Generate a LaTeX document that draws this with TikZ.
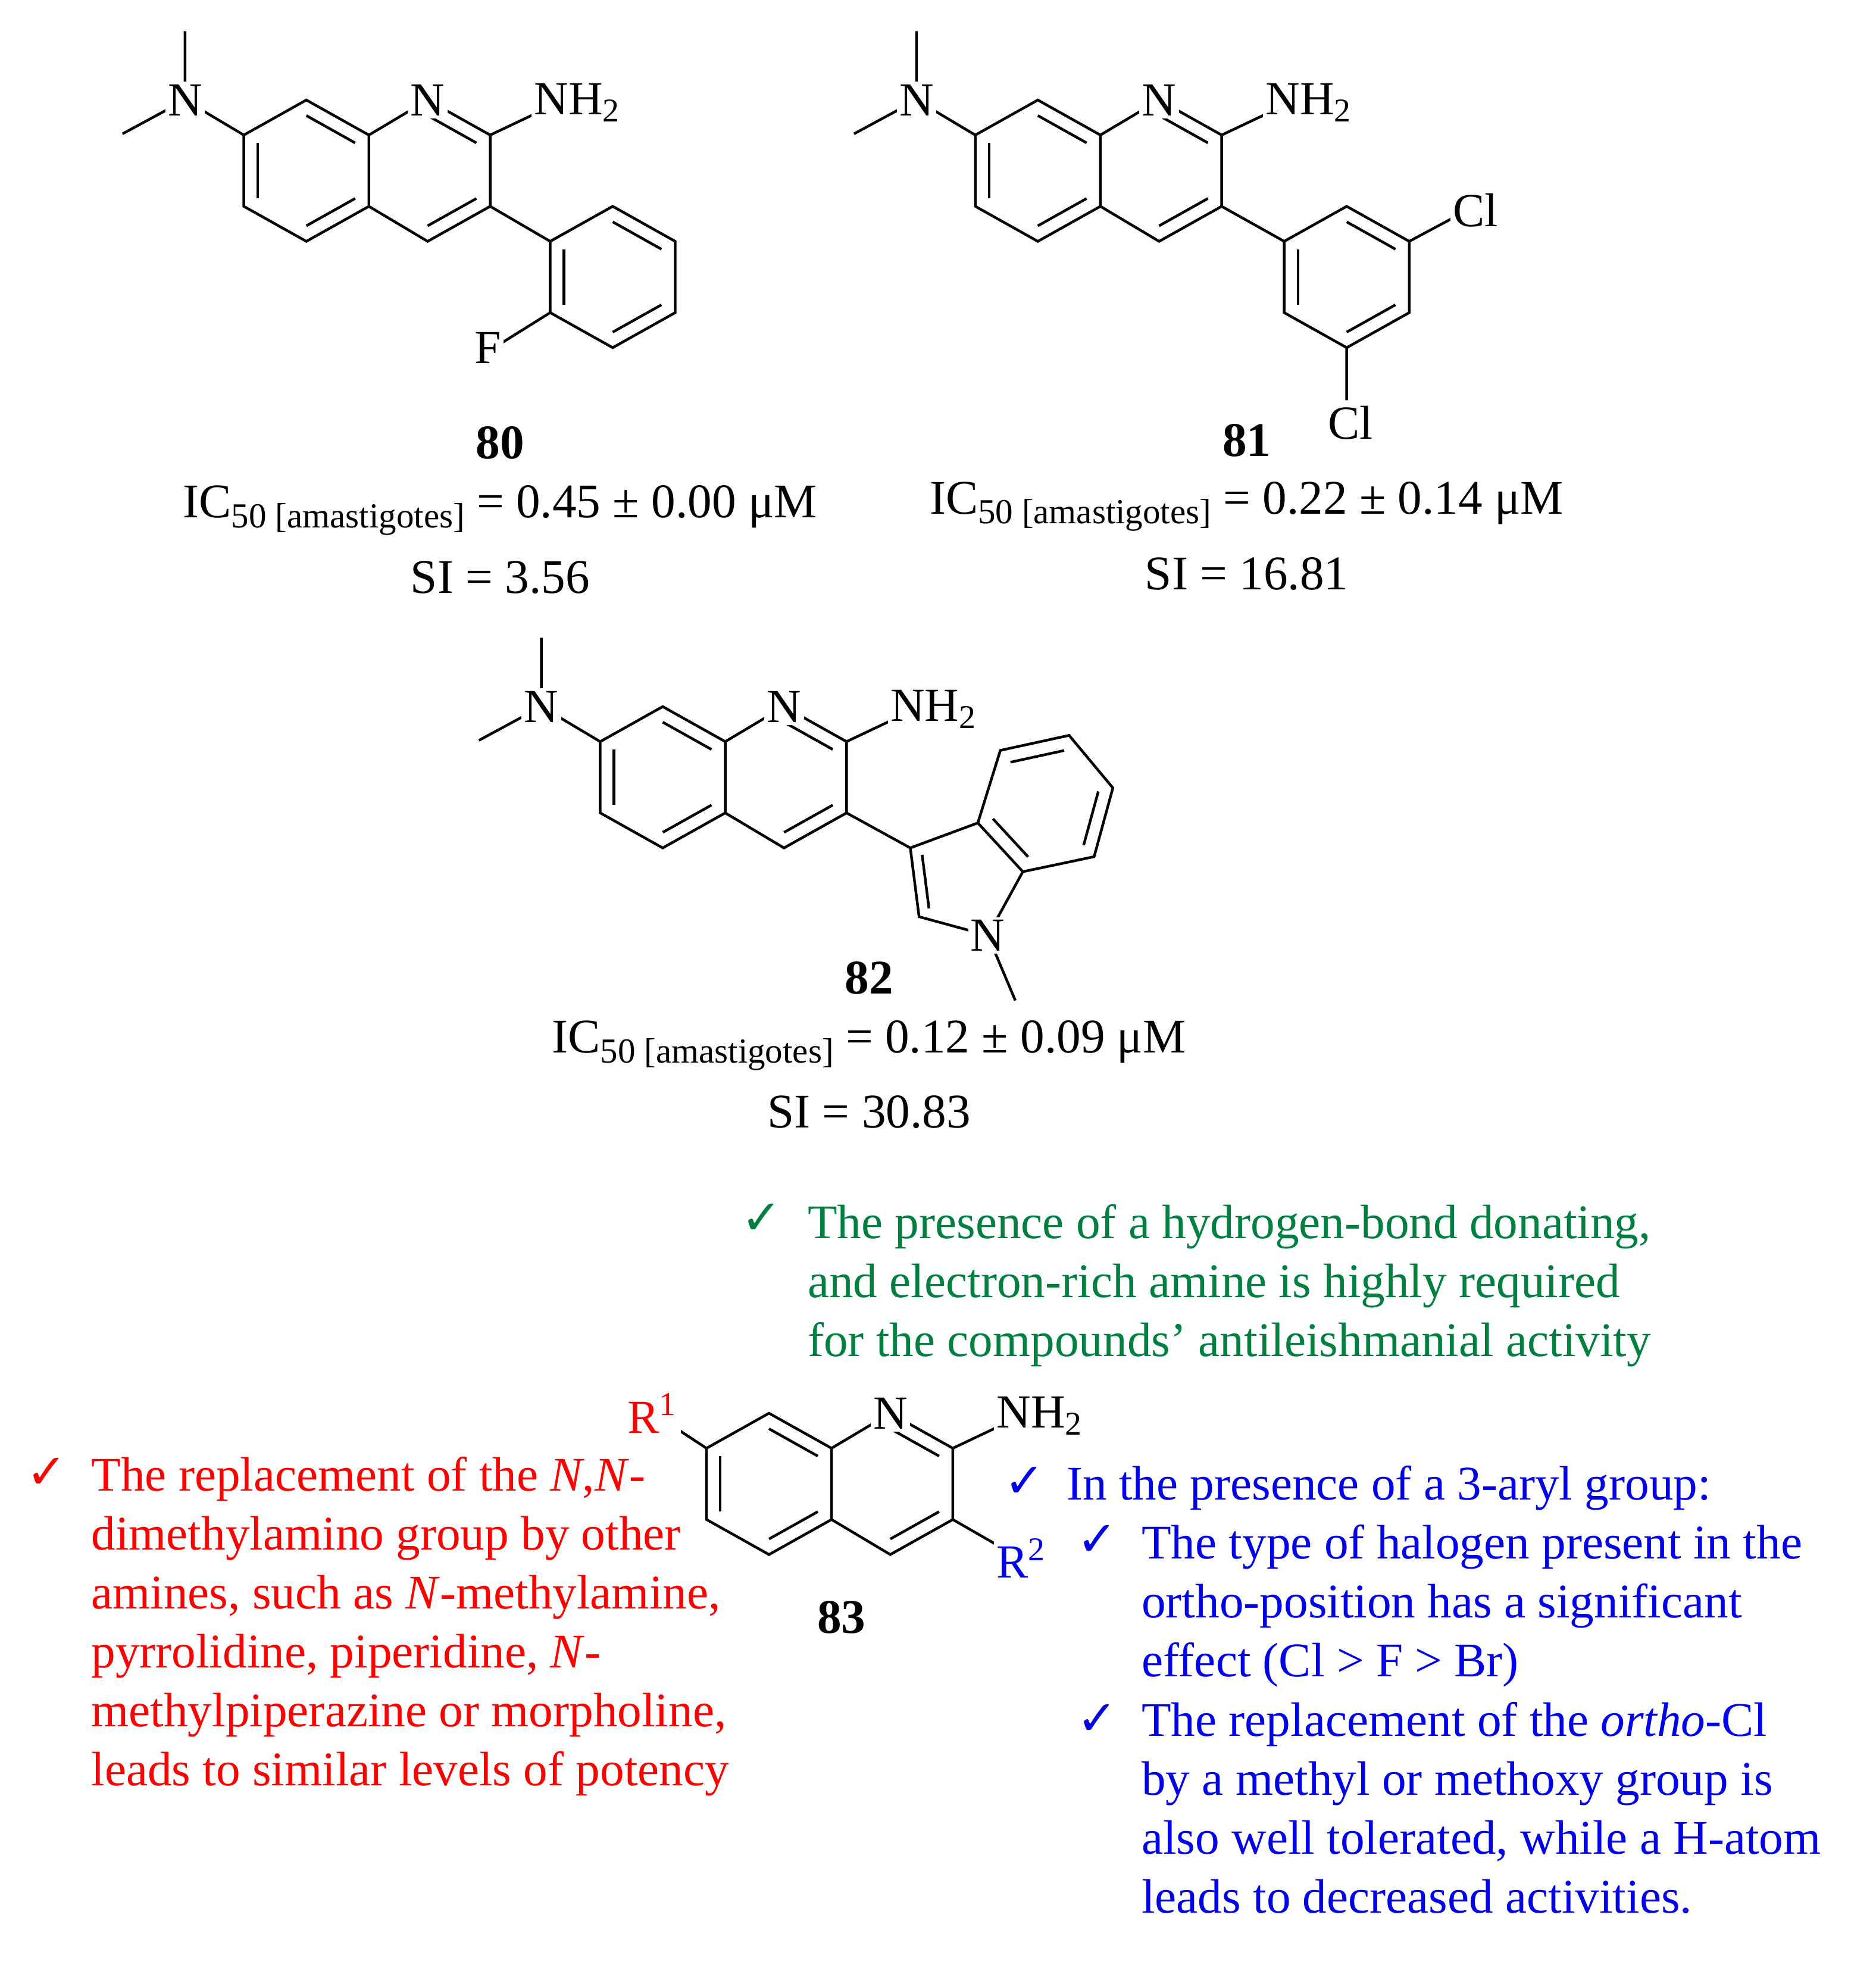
\documentclass[tikz,border=0pt]{standalone}
\usepackage{fontspec}
\setmainfont{Liberation Serif}
\newfontfamily\dejavu{DejaVu Sans}
\usetikzlibrary{calc}
\definecolor{cgreen}{RGB}{0,128,64}
\definecolor{cblue}{RGB}{0,0,235}
\definecolor{cred}{RGB}{255,0,0}
\newcommand\ib[3]{\draw ($(#1)!0.78!(#2)$) -- ($(#1)!0.78!(#3)$);}
\newcommand\ck{{\dejavu ✓}}
\newcommand\icf[2]{IC\raisebox{-0.45ex}{\footnotesize 50 [amastigotes]} = #1 ± #2 μM}
\tikzset{atom/.style={fill=white,inner sep=0.6pt,font=\fontsize{10.8}{12}\selectfont},
 txt/.style={anchor=west,inner sep=0pt,font=\fontsize{11}{13.4}\selectfont},
 ctr/.style={inner sep=0pt,font=\fontsize{11}{13}\selectfont},
 bnd/.style={line width=0.6pt}}
\newcommand\core{%
\coordinate (a) at (195,108); \coordinate (b) at (245,80); \coordinate (c) at (295,108);
\coordinate (d) at (295,165); \coordinate (e) at (245,193); \coordinate (f) at (195,165);
\coordinate (g) at (342,80); \coordinate (h) at (392,108); \coordinate (i) at (392,165);
\coordinate (j) at (342,193); \coordinate (L) at (245,136.5); \coordinate (R) at (342,136.5);
\draw (a)--(b)--(c)--(d)--(e)--(f)--cycle; \draw (c)--(g)--(h)--(i)--(j)--(d);
\ib{L}{f}{a}\ib{L}{b}{c}\ib{L}{d}{e}\ib{R}{g}{h}\ib{R}{i}{j}
\draw (h)--(430,90);
\node[atom] (rN) at (g) {N};
\node[atom,anchor=west] (nh) at (424,82) {NH\textsubscript{2}};}
\newcommand\nme{%
\coordinate (mn) at (148,80);
\draw (a)--(mn) (mn)--(148,25) (mn)--(98,107);
\node[atom] (dN) at (mn) {N};}
\begin{document}
\begin{tikzpicture}[x=0.1mm,y=-0.1mm,every path/.style={bnd}]
\useasboundingbox (0,0) rectangle (1500,1576);
% ---- 80
\begin{scope}
\core \nme
\coordinate (p1) at (440,193); \coordinate (p2) at (490,165); \coordinate (p3) at (540,193);
\coordinate (p4) at (540,250); \coordinate (p5) at (490,278); \coordinate (p6) at (440,250);
\coordinate (P) at (490,221.5);
\draw (i)--(p1) (p1)--(p2)--(p3)--(p4)--(p5)--(p6)--cycle (p6)--(400,275);
\ib{P}{p6}{p1}\ib{P}{p2}{p3}\ib{P}{p4}{p5}
\node[atom] (F) at (390,278) {F};
\end{scope}
\node[ctr,font=\fontsize{11}{13}\selectfont\bfseries] (l80) at (400,354) {80};
\node[ctr] (ic80) at (400,408) {\icf{0.45}{0.00}};
\node[ctr] (si80) at (400,462) {SI = 3.56};
% ---- 81
\begin{scope}[shift={(585,0)}]
\core \nme
\coordinate (p1) at (442,193); \coordinate (p2) at (492,165); \coordinate (p3) at (542,193);
\coordinate (p4) at (542,250); \coordinate (p5) at (492,278); \coordinate (p6) at (442,250);
\coordinate (P) at (492,221.5);
\draw (i)--(p1) (p1)--(p2)--(p3)--(p4)--(p5)--(p6)--cycle (p3)--(585,170) (p5)--(492,320);
\ib{P}{p6}{p1}\ib{P}{p2}{p3}\ib{P}{p4}{p5}
\node[atom] (cl1) at (595,168) {Cl};
\node[atom] (cl2) at (495,338) {Cl};
\end{scope}
\node[ctr,font=\fontsize{11}{13}\selectfont\bfseries] (l81) at (997,352) {81};
\node[ctr] (ic81) at (997,405) {\icf{0.22}{0.14}};
\node[ctr] (si81) at (997,459) {SI = 16.81};
% ---- 82
\begin{scope}[shift={(285,485)}]
\core \nme
\coordinate (k3) at (443,193); \coordinate (k2) at (450,248); \coordinate (kN) at (505,263);
\coordinate (k7a) at (533,212); \coordinate (k3a) at (497,173); \coordinate (k4) at (515,115);
\coordinate (k5) at (570,103); \coordinate (k6) at (605,145); \coordinate (k7) at (590,200);
\coordinate (B) at (552,158); \coordinate (Q) at (486,218);
\draw (i)--(k3) (k3)--(k2)--(kN)--(k7a)--(k3a)--cycle (k3a)--(k4)--(k5)--(k6)--(k7)--(k7a) (kN)--(527,315);
\ib{Q}{k3}{k2}\ib{B}{k4}{k5}\ib{B}{k6}{k7}\ib{B}{k7a}{k3a}
\node[atom] (iN) at (kN) {N};
\end{scope}
\node[ctr,font=\fontsize{11}{13}\selectfont\bfseries] (l82) at (695,782) {82};
\node[ctr] (ic82) at (695,836) {\icf{0.12}{0.09}};
\node[ctr] (si82) at (695,889) {SI = 30.83};
% ---- 83
\begin{scope}[shift={(370,1050)}]
\core
\draw (a)--(160,85) (i)--(432,188);
\node[atom,text=cred] (r1) at (152,80) {R\textsuperscript{1}};
\node[atom,text=cblue,anchor=west] (r2) at (424,196) {R\textsuperscript{2}};
\end{scope}
\node[ctr,font=\fontsize{11}{13}\selectfont\bfseries] (l83) at (673,1293) {83};
% ---- texts
\node[txt,text=cgreen] (gk) at (592,975) {\ck};
\node[txt,text=cgreen,align=left,anchor=north west] (gt) at (645,962) {The presence of a hydrogen-bond donating,\\and electron-rich amine is highly required\\for the compounds’ antileishmanial activity};
\node[txt,text=cred] (rk) at (20,1178) {\ck};
\node[txt,text=cred,align=left,anchor=north west] (rt) at (72,1164) {The replacement of the \textit{N},\textit{N}-\\dimethylamino group by other\\amines, such as \textit{N}-methylamine,\\pyrrolidine, piperidine, \textit{N}-\\methylpiperazine or morpholine,\\leads to similar levels of potency};
\node[txt,text=cblue] (bk) at (802,1185) {\ck};
\node[txt,text=cblue] (bt) at (852,1190) {In the presence of a 3-aryl group:};
\node[txt,text=cblue] (bk1) at (860,1232) {\ck};
\node[txt,text=cblue,align=left,anchor=north west] (bt1) at (912,1218) {The type of halogen present in the\\ortho-position has a significant\\effect (Cl {>} F {>} Br)};
\node[txt,text=cblue] (bk2) at (860,1375) {\ck};
\node[txt,text=cblue,align=left,anchor=north west] (bt2) at (912,1360) {The replacement of the \textit{ortho}-Cl\\by a methyl or methoxy group is\\also well tolerated, while a H-atom\\leads to decreased activities.};
\end{tikzpicture}
\end{document}
